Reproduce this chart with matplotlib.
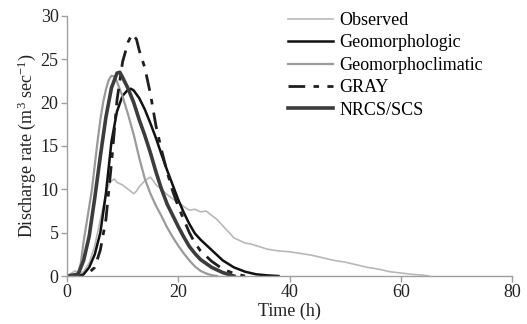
import matplotlib
matplotlib.use("Agg")
import matplotlib.pyplot as plt

plt.rcParams["font.family"] = ["Liberation Serif", "DejaVu Serif"]
plt.rcParams["mathtext.fontset"] = "custom"
plt.rcParams["mathtext.rm"] = "Liberation Serif"
plt.rcParams["mathtext.it"] = "Liberation Serif:italic"

# --- data (time in h, discharge in m3/s) ---
obs_t = [0, 1, 1.5, 2, 3, 4, 5, 6, 7, 7.7, 8.5, 9, 10, 11, 12, 12.5, 13, 14,
         15, 15.5, 16, 17, 18, 19, 20, 21, 22, 23, 24, 25, 26, 27, 28, 29, 30,
         31, 32, 33, 34, 35, 36, 38, 40, 42, 44, 46, 48, 50, 52, 54, 56, 58,
         60, 62, 64, 65]
obs_q = [0, 0.4, 0.6, 0.3, 0.5, 1.5, 3.5, 6.5, 9.5, 10.8, 11.2, 10.8, 10.5,
         10.0, 9.5, 9.8, 10.3, 11.0, 11.4, 11.0, 10.5, 10.0, 9.4, 8.9, 8.5,
         8.0, 7.6, 7.7, 7.4, 7.5, 7.0, 6.5, 5.8, 5.1, 4.4, 4.1, 3.8, 3.7, 3.5,
         3.3, 3.1, 2.9, 2.8, 2.6, 2.4, 2.1, 1.8, 1.6, 1.3, 1.0, 0.8, 0.5, 0.35,
         0.2, 0.1, 0]

geo_t = [0, 2, 3, 4, 5, 6, 7, 8, 9, 10, 11, 11.5, 12, 13, 14, 15, 16, 17, 18,
         19, 20, 21, 22, 23, 24, 26, 28, 30, 32, 34, 36, 38]
geo_q = [0, 0, 0.2, 1.0, 2.5, 5.0, 9.5, 15.5, 19.0, 20.8, 21.5, 21.6, 21.4,
         20.5, 19.2, 17.6, 15.9, 14.0, 12.2, 10.5, 8.8, 7.3, 6.0, 4.9, 4.2,
         3.0, 1.8, 1.0, 0.5, 0.2, 0.08, 0]

clim_t = [0, 1, 2, 2.5, 3, 3.5, 4, 4.5, 5, 5.5, 6, 6.5, 7, 7.5, 8, 8.5, 9, 10,
          11, 12, 13, 14, 15, 16, 17, 18, 19, 20, 21, 22, 23, 24, 25, 26, 27]
clim_q = [0, 0, 0.3, 1.5, 4.0, 6.0, 8.0, 10.0, 12.8, 15.5, 18.0, 20.0, 21.5,
          22.6, 23.1, 23.0, 22.4, 20.7, 18.6, 16.3, 13.6, 11.2, 9.5, 8.1, 6.9,
          5.6, 4.5, 3.5, 2.6, 1.8, 1.1, 0.6, 0.3, 0.1, 0]

gray_t = [0, 3, 4, 5, 6, 7, 8, 9, 10, 11, 11.7, 12.5, 13, 14, 15, 16, 17, 18,
          19, 20, 21, 22, 23, 24, 26, 28, 30, 32]
gray_q = [0, 0.1, 0.4, 1.0, 3.0, 6.5, 13.0, 20.3, 24.7, 27.0, 27.9, 27.3,
          26.0, 24.0, 21.0, 17.3, 14.5, 12.0, 9.8, 8.0, 6.5, 5.0, 3.8, 2.9,
          1.7, 0.8, 0.3, 0]

scs_t = [0, 2, 3, 4, 5, 6, 7, 8, 9, 9.5, 10, 11, 12, 13, 14, 15, 16, 17, 18,
         19, 20, 21, 22, 23, 24, 26, 28, 30]
scs_q = [0, 0.2, 1.8, 4.6, 9.0, 13.8, 18.3, 21.7, 23.4, 23.5, 22.9, 21.6,
         20.0, 18.0, 16.2, 14.2, 12.0, 10.0, 8.3, 7.0, 5.7, 4.5, 3.4, 2.6, 1.9,
         1.0, 0.4, 0]

FS = 13

fig = plt.figure(figsize=(5.27, 3.24), dpi=100)
ax = fig.add_axes([0.127, 0.148, 0.845, 0.803])

ax.plot(obs_t, obs_q, color="#b8b8b8", lw=1.2, label="Observed")
ax.plot(geo_t, geo_q, color="#111111", lw=1.8, label="Geomorphologic")
ax.plot(clim_t, clim_q, color="#9a9a9a", lw=1.6, label="Geomorphoclimatic")
ax.plot(gray_t, gray_q, color="#1e1e1e", lw=2.0, dashes=[6, 3, 2, 3],
        label="GRAY")
ax.plot(scs_t, scs_q, color="#3c3c3c", lw=2.6, label="NRCS/SCS")

ax.set_xlim(0, 80)
ax.set_ylim(0, 30)
ax.set_xticks([0, 20, 40, 60, 80])
ax.set_yticks([0, 5, 10, 15, 20, 25, 30])
for s in ("top", "right"):
    ax.spines[s].set_visible(False)
for s in ("left", "bottom"):
    ax.spines[s].set_color("#a0a0a0")
    ax.spines[s].set_linewidth(1.0)
ax.tick_params(colors="#a0a0a0", labelcolor="#222222", labelsize=FS,
               length=4, width=1.0, direction="out", pad=2)

ax.set_xlabel("Time (h)", fontsize=FS, color="#222222", labelpad=1)
ax.set_ylabel(r"Discharge rate (m$^{3}$ sec$^{-1}$)", fontsize=FS,
              color="#222222", labelpad=2)

ax.legend(loc="upper left", bbox_to_anchor=(288 / 527, 1 - 12 / 324),
          bbox_transform=fig.transFigure, frameon=False, fontsize=FS,
          handlelength=2.5, handletextpad=0.35, labelspacing=0.3,
          borderpad=0, borderaxespad=0)

fig.savefig("out.png", dpi=100)
